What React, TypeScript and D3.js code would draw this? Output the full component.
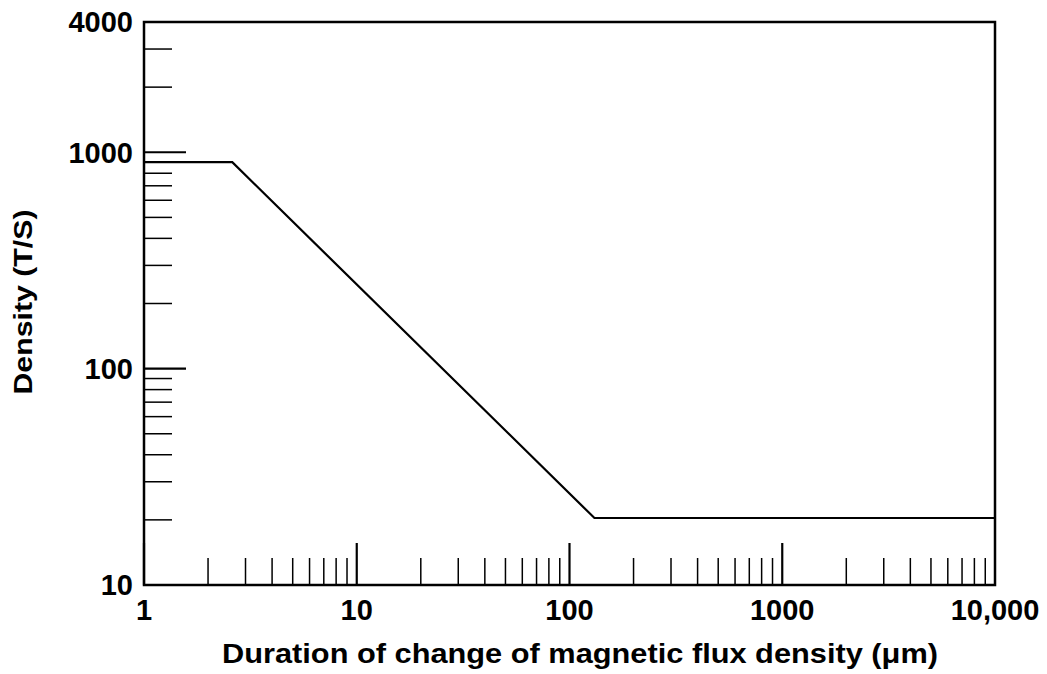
import React from "react";
import * as d3 from "d3";

const durations = [1, 2.6, 131, 10000];
const densities = [900, 900, 20.4, 20.4];
const xTickValues = [1, 10, 100, 1000, 10000];
const xTickLabels = ["1", "10", "100", "1000", "10,000"];
const yTickValues = [10, 100, 1000, 4000];
const yTickLabels = ["10", "100", "1000", "4000"];
const xTitle = "Duration of change of magnetic flux density (\u03bcm)";
const yTitle = "Density (T/S)";

const W = 1047;
const H = 674;
const M = { left: 144, right: 995, top: 22, bottom: 585 };
const FONT = "'Liberation Sans', Arial, Helvetica, sans-serif";

export default function App() {
  const x = d3.scaleLog().domain([1, 10000]).range([M.left, M.right]);
  const y = d3.scaleLog().domain([10, 4000]).range([M.bottom, M.top]);

  const xMinor: number[] = [];
  for (let d = 1; d < 10000; d *= 10) {
    for (let k = 2; k <= 9; k++) xMinor.push(d * k);
  }
  const yMinor: number[] = [];
  for (let d = 10; d < 4000; d *= 10) {
    for (let k = 2; k <= 9; k++) if (d * k <= 4000) yMinor.push(d * k);
  }
  const xMajor = [1, 10, 100, 1000];
  const yMajor = [100, 1000];

  const pts = durations.map((d, i) => [d, densities[i]] as [number, number]);
  const line = d3
    .line<[number, number]>()
    .x((d) => x(d[0]))
    .y((d) => y(d[1]));

  return (
    <svg
      width={W}
      height={H}
      style={{ position: "absolute", left: 0, top: 0, background: "#fff" }}
      fontFamily={FONT}
    >
      <rect x={0} y={0} width={W} height={H} fill="#fff" />
      {xMinor.map((v) => (
        <line key={"xm" + v} x1={x(v)} x2={x(v)} y1={M.bottom} y2={M.bottom - 27} stroke="#000" strokeWidth={1.5} />
      ))}
      {xMajor.map((v) => (
        <line key={"xM" + v} x1={x(v)} x2={x(v)} y1={M.bottom} y2={M.bottom - 42} stroke="#000" strokeWidth={2.2} />
      ))}
      {yMinor.map((v) => (
        <line key={"ym" + v} x1={M.left} x2={M.left + 28} y1={y(v)} y2={y(v)} stroke="#000" strokeWidth={1.5} />
      ))}
      {yMajor.map((v) => (
        <line key={"yM" + v} x1={M.left} x2={M.left + 42} y1={y(v)} y2={y(v)} stroke="#000" strokeWidth={2.2} />
      ))}
      <rect
        x={M.left}
        y={M.top}
        width={M.right - M.left}
        height={M.bottom - M.top}
        fill="none"
        stroke="#000"
        strokeWidth={2.5}
      />
      <path d={line(pts) || ""} fill="none" stroke="#000" strokeWidth={2.2} strokeLinejoin="miter" />
      {xTickValues.map((v, i) => (
        <text
          key={"xl" + v}
          x={x(v)}
          y={620}
          textAnchor="middle"
          fontSize={29}
          fontWeight="bold"
        >
          {xTickLabels[i]}
        </text>
      ))}
      {yTickValues.map((v, i) => (
        <text
          key={"yl" + v}
          x={133}
          y={y(v)}
          dy="0.36em"
          textAnchor="end"
          fontSize={29}
          fontWeight="bold"
        >
          {yTickLabels[i]}
        </text>
      ))}
      <text
        x={580}
        y={663}
        textAnchor="middle"
        fontSize={27}
        fontWeight="bold"
        textLength={716}
        lengthAdjust="spacingAndGlyphs"
      >
        {xTitle}
      </text>
      <text
        transform={`translate(32,302) rotate(-90)`}
        textAnchor="middle"
        fontSize={26}
        fontWeight="bold"
        textLength={185}
        lengthAdjust="spacingAndGlyphs"
      >
        {yTitle}
      </text>
    </svg>
  );
}
